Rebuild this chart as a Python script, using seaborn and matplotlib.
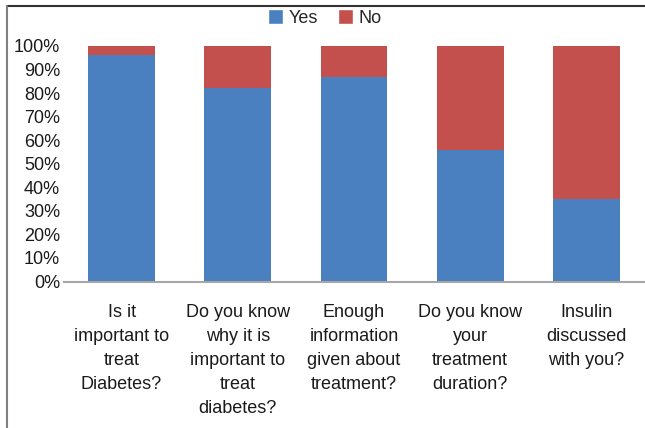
import matplotlib
matplotlib.use("Agg")
import matplotlib.pyplot as plt
import seaborn as sns
import pandas as pd
from matplotlib.lines import Line2D
from matplotlib.patches import Patch

categories = [
    "Is it\nimportant to\ntreat\nDiabetes?",
    "Do you know\nwhy it is\nimportant to\ntreat\ndiabetes?",
    "Enough\ninformation\ngiven about\ntreatment?",
    "Do you know\nyour\ntreatment\nduration?",
    "Insulin\ndiscussed\nwith you?",
]
yes_pct = [96, 82, 87, 56, 35]
no_pct = [4, 18, 13, 44, 65]
y_ticks = [0, 10, 20, 30, 40, 50, 60, 70, 80, 90, 100]

sns.set_theme(style="white")
plt.rcParams['font.family'] = ['Liberation Sans', 'DejaVu Sans']

blue = "#4A80C0"
red = "#C4504E"
fs = 13

df = pd.DataFrame({
    "cat": categories,
    "yes": yes_pct,
    "total": [y + n for y, n in zip(yes_pct, no_pct)],
})

fig = plt.figure(figsize=(6.45, 4.28), dpi=100)
ax = fig.add_axes([63.5 / 645, 1 - 281.5 / 428, 581 / 645, (281.5 - 46) / 428])

sns.barplot(data=df, x="cat", y="total", color=red, width=0.575, ax=ax,
            saturation=1, zorder=2, linewidth=0)
sns.barplot(data=df, x="cat", y="yes", color=blue, width=0.575, ax=ax,
            saturation=1, zorder=3, linewidth=0)

ax.set_xlim(-0.5, 4.5)
ax.set_ylim(0, 100)
ax.set_yticks(y_ticks)
ax.set_yticklabels([f"{v}%" for v in y_ticks])
ax.set_xlabel("")
ax.set_ylabel("")
ax.tick_params(axis="y", length=0, pad=2.5, labelsize=fs, colors="#1a1a1a")
ax.tick_params(axis="x", length=0, pad=16, labelsize=fs, colors="#1a1a1a")
for lab in ax.get_xticklabels():
    lab.set_linespacing(1.54)
    lab.set_ha("center")

for s in ["top", "right", "left"]:
    ax.spines[s].set_visible(False)
ax.spines["bottom"].set_color("#A6A6A6")
ax.spines["bottom"].set_linewidth(1.5)
ax.spines["bottom"].set_zorder(4)

handles = [Patch(facecolor=blue, label="Yes"), Patch(facecolor=red, label="No")]
fig.legend(handles=handles, loc="center", bbox_to_anchor=(325 / 645, 1 - 18 / 428),
           ncol=2, frameon=False, fontsize=fs, handlelength=0.85, handleheight=0.85,
           handletextpad=0.3, columnspacing=1.1)

# outer frame (top and left edges of the original box)
fig.add_artist(Line2D([6.5 / 645, 1], [1 - 6 / 428, 1 - 6 / 428], color="#333333",
                      lw=1.5, transform=fig.transFigure))
fig.add_artist(Line2D([6.5 / 645, 6.5 / 645], [0, 1 - 6 / 428], color="#808080",
                      lw=1.5, transform=fig.transFigure))

fig.savefig("out.png", dpi=100)
